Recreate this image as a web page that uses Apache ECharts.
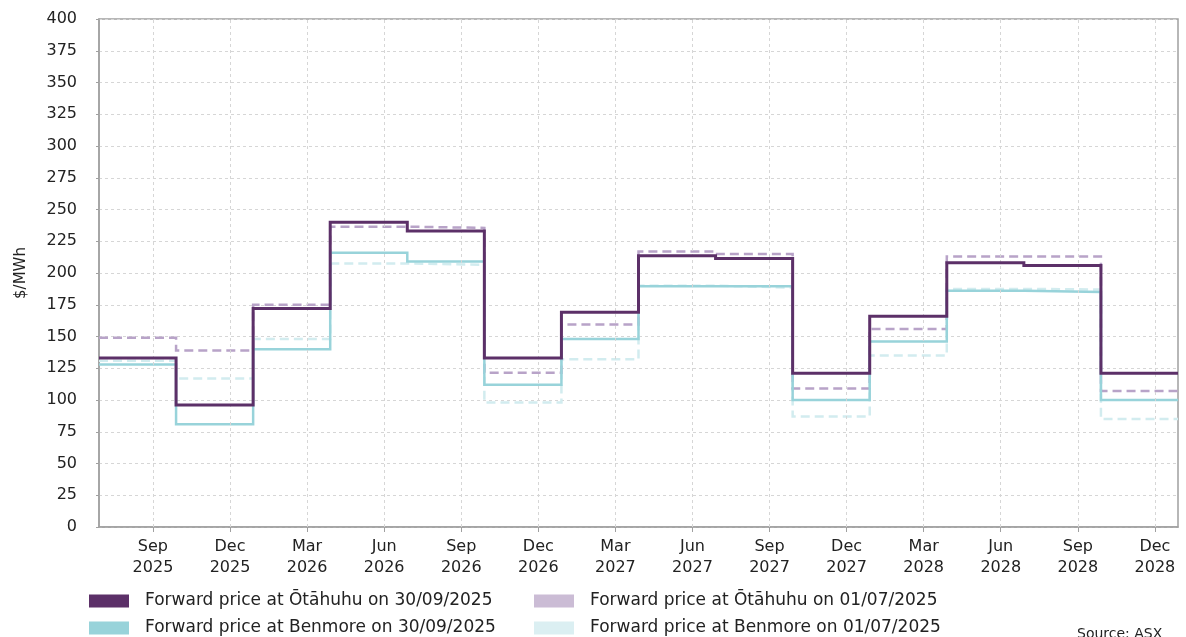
<!DOCTYPE html>
<html>
<head>
<meta charset="utf-8">
<script src="https://cdn.jsdelivr.net/npm/echarts@6/dist/echarts.min.js"></script>
<style>
html,body{margin:0;padding:0;background:#fff;}
#chart{width:1186px;height:637px;}
</style>
</head>
<body>
<div id="chart"></div>
<script>
// Quarter blocks (x = quarter index from plot start, block i spans i..i+1)
var quarterIdx = [0,1,2,3,4,5,6,7,8,9,10,11,12,13];
var endIdx = 14;
// Tick positions and labels on x-axis
var tickPos = [0.7,1.7,2.7,3.7,4.7,5.7,6.7,7.7,8.7,9.7,10.7,11.7,12.7,13.7];
var tickLabels = ['Sep\n2025','Dec\n2025','Mar\n2026','Jun\n2026','Sep\n2026','Dec\n2026','Mar\n2027','Jun\n2027','Sep\n2027','Dec\n2027','Mar\n2028','Jun\n2028','Sep\n2028','Dec\n2028'];
// Series values ($/MWh)
var otahuhu3009 = [133,96,172,240,233,133,169,213.5,211.5,121,166,208,206,121];
var benmore3009 = [128,81,140,216,209,112,148,189.5,189.5,100,146,186,185,100];
var otahuhu0107 = [149,139,175,236.5,235.5,121.5,159.5,217,215,109,156,213,213,107];
var benmore0107 = [131,117,148,207.5,206.5,98,132,190,188.5,87,135,187.5,187,85];

var names = ['Forward price at Ōtāhuhu on 30/09/2025','Forward price at Benmore on 30/09/2025','Forward price at Ōtāhuhu on 01/07/2025','Forward price at Benmore on 01/07/2025'];

function stepData(vals){
  var d = quarterIdx.map(function(q,i){return [q, vals[i]];});
  d.push([endIdx, vals[vals.length-1]]);
  return d;
}

var font = '"DejaVu Sans", Verdana, sans-serif';
var chart = echarts.init(document.getElementById('chart'), null, {renderer:'canvas'});

function mkSeries(name, vals, color, width, type, z){
  return {
    name: name, type: 'line', step: 'end', data: stepData(vals),
    symbol: 'none', z: z, animation: false,
    lineStyle: {color: color, width: width, type: type, cap: 'butt', join: 'miter'},
    itemStyle: {color: color}
  };
}

function mkLegend(left, items){
  return {orient: 'vertical', left: left, top: 592, height: 45, padding: 0, itemWidth: 40, itemHeight: 13, itemGap: 9,
     icon: 'rect', textStyle: {color: '#222', fontSize: 17, fontFamily: font, padding: [0,0,0,11], lineHeight: 18},
     data: items};
}

chart.setOption({
  animation: false,
  backgroundColor: '#fff',
  textStyle: {fontFamily: font},
  grid: {left: 99, right: 8, top: 19, bottom: 110, show: true, borderColor: '#a0a0a0', borderWidth: 1.5, backgroundColor: 'transparent'},
  xAxis: {
    type: 'value', min: 0, max: 14,
    axisLine: {show: true, lineStyle: {color: '#a0a0a0', width: 1.5}},
    axisTick: {show: true, customValues: tickPos, length: 5, lineStyle: {color: '#a0a0a0'}},
    axisLabel: {show: true, customValues: tickPos, color: '#222', fontSize: 16, fontFamily: font, lineHeight: 21, margin: 9,
      formatter: function(v){ var i = Math.round(v - 0.7); return tickLabels[i] || ''; }},
    splitLine: {show: false}
  },
  yAxis: {
    type: 'value', min: 0, max: 400, interval: 25,
    name: '$/MWh', nameLocation: 'middle', nameGap: 70, nameRotate: 90,
    nameTextStyle: {color: '#222', fontSize: 15, fontFamily: font},
    axisLine: {show: true, lineStyle: {color: '#a0a0a0', width: 1.5}},
    axisTick: {show: true, length: 3, lineStyle: {color: '#a0a0a0'}},
    axisLabel: {color: '#222', fontSize: 16, fontFamily: font, margin: 22},
    splitLine: {show: true, lineStyle: {color: '#d6d6d6', type: [3,3], width: 1}}
  },
  legend: [
    mkLegend(89, [{name: names[0], itemStyle: {color: '#5c3068'}}, {name: names[1], itemStyle: {color: '#98d3da'}}]),
    mkLegend(534, [{name: names[2], itemStyle: {color: '#cbbcd5'}}, {name: names[3], itemStyle: {color: '#dbeff2'}}])
  ],
  graphic: [
    {type: 'text', left: 1077, top: 627, style: {text: 'Source: ASX', fill: '#222', font: '14px ' + font}}
  ],
  series: [
    {type: 'line', data: [], markLine: {silent: true, symbol: 'none', label: {show: false},
      lineStyle: {color: '#d6d6d6', type: [3,3], width: 1},
      data: tickPos.map(function(p){return {xAxis: p};})}, z: 1},
    mkSeries(names[3], benmore0107, '#d2ecef', 2.5, [9,5], 2),
    mkSeries(names[2], otahuhu0107, '#b8a3c8', 2.5, [9,5], 3),
    mkSeries(names[1], benmore3009, '#98d3da', 2.5, 'solid', 4),
    mkSeries(names[0], otahuhu3009, '#5c3068', 3, 'solid', 5)
  ]
});
</script>
</body>
</html>
